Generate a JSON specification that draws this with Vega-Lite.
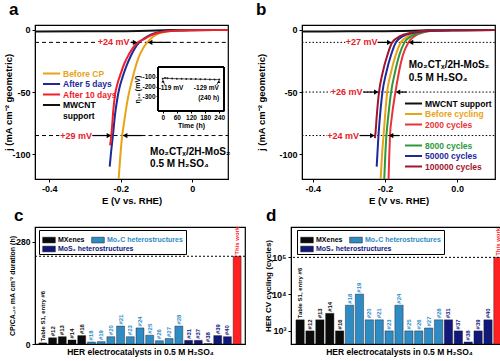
{
 "$schema": "https://vega.github.io/schema/vega-lite/v6.json",
 "background": "white",
 "padding": {"left": 2, "top": 0, "right": 0, "bottom": 0},
 "config": {
  "font": "Liberation Sans",
  "view": {"stroke": "black", "strokeWidth": 1.2},
  "axis": {"grid": false, "domainColor": "black", "tickColor": "black", "labelColor": "black", "titleColor": "black", "labelFontWeight": "bold", "titleFontWeight": "bold", "labelFontSize": 9, "titleFontSize": 9.5, "tickSize": 3, "labelPadding": 2, "titlePadding": 2, "labelFont": "Liberation Sans", "titleFont": "Liberation Sans", "labelOverlap": false},
  "legend": {"labelFont": "Liberation Sans", "labelFontWeight": "bold", "labelColor": "black"},
  "title": {"fontSize": 17, "fontWeight": "bold", "anchor": "start", "frame": "bounds", "baseline": "alphabetic", "font": "Liberation Sans", "color": "black"},
  "text": {"font": "Liberation Sans", "fontWeight": "bold"}
 },
 "datasets": {
  "a_curves": [
   {"series": "MWCNT support", "E": -0.44, "j": -1.2}, {"series": "MWCNT support", "E": -0.3, "j": -1.1}, {"series": "MWCNT support", "E": -0.2, "j": -1.0}, {"series": "MWCNT support", "E": -0.15, "j": -0.8}, {"series": "MWCNT support", "E": -0.1, "j": -0.4}, {"series": "MWCNT support", "E": -0.05, "j": -0.1}, {"series": "MWCNT support", "E": 0.0, "j": 0}, {"series": "MWCNT support", "E": 0.1, "j": 0},
   {"series": "Before CP", "E": 0.1, "j": 0}, {"series": "Before CP", "E": 0.05, "j": -0.1}, {"series": "Before CP", "E": 0.0, "j": -0.2}, {"series": "Before CP", "E": -0.04, "j": -0.5}, {"series": "Before CP", "E": -0.07, "j": -1.2}, {"series": "Before CP", "E": -0.09, "j": -2.5}, {"series": "Before CP", "E": -0.105, "j": -4.5}, {"series": "Before CP", "E": -0.116, "j": -7}, {"series": "Before CP", "E": -0.126, "j": -10}, {"series": "Before CP", "E": -0.138, "j": -15}, {"series": "Before CP", "E": -0.15, "j": -22}, {"series": "Before CP", "E": -0.16, "j": -31}, {"series": "Before CP", "E": -0.17, "j": -42}, {"series": "Before CP", "E": -0.178, "j": -52}, {"series": "Before CP", "E": -0.186, "j": -65}, {"series": "Before CP", "E": -0.191, "j": -75}, {"series": "Before CP", "E": -0.196, "j": -85}, {"series": "Before CP", "E": -0.2, "j": -97}, {"series": "Before CP", "E": -0.203, "j": -108}, {"series": "Before CP", "E": -0.206, "j": -120},
   {"series": "After 5 days", "E": 0.1, "j": 0}, {"series": "After 5 days", "E": 0.0, "j": -0.2}, {"series": "After 5 days", "E": -0.05, "j": -0.5}, {"series": "After 5 days", "E": -0.08, "j": -1.1}, {"series": "After 5 days", "E": -0.1, "j": -2.2}, {"series": "After 5 days", "E": -0.12, "j": -4.3}, {"series": "After 5 days", "E": -0.135, "j": -7}, {"series": "After 5 days", "E": -0.148, "j": -10}, {"series": "After 5 days", "E": -0.16, "j": -14.5}, {"series": "After 5 days", "E": -0.172, "j": -21}, {"series": "After 5 days", "E": -0.184, "j": -29}, {"series": "After 5 days", "E": -0.195, "j": -38}, {"series": "After 5 days", "E": -0.204, "j": -47}, {"series": "After 5 days", "E": -0.21, "j": -56}, {"series": "After 5 days", "E": -0.216, "j": -68}, {"series": "After 5 days", "E": -0.222, "j": -85}, {"series": "After 5 days", "E": -0.227, "j": -98}, {"series": "After 5 days", "E": -0.231, "j": -110},
   {"series": "After 10 days", "E": 0.1, "j": 0}, {"series": "After 10 days", "E": 0.0, "j": -0.2}, {"series": "After 10 days", "E": -0.05, "j": -0.6}, {"series": "After 10 days", "E": -0.08, "j": -1.4}, {"series": "After 10 days", "E": -0.1, "j": -2.7}, {"series": "After 10 days", "E": -0.12, "j": -5}, {"series": "After 10 days", "E": -0.138, "j": -7.8}, {"series": "After 10 days", "E": -0.152, "j": -10}, {"series": "After 10 days", "E": -0.165, "j": -14}, {"series": "After 10 days", "E": -0.178, "j": -20}, {"series": "After 10 days", "E": -0.19, "j": -27}, {"series": "After 10 days", "E": -0.2, "j": -35}, {"series": "After 10 days", "E": -0.209, "j": -43}, {"series": "After 10 days", "E": -0.216, "j": -52}, {"series": "After 10 days", "E": -0.221, "j": -65}, {"series": "After 10 days", "E": -0.225, "j": -80}, {"series": "After 10 days", "E": -0.227, "j": -86}, {"series": "After 10 days", "E": -0.23, "j": -93}
  ],
  "a_hl": [{"j": -10, "E1": -0.44, "E2": -0.268}, {"j": -10, "E1": -0.172, "E2": 0.1}, {"j": -85, "E1": -0.44, "E2": -0.372}, {"j": -85, "E1": -0.279, "E2": 0.1}],
  "a_arrows": [{"j": -10, "E1": -0.172, "E2": -0.16, "dir": "triangle-right"}, {"j": -10, "E1": -0.06, "E2": -0.118, "dir": "triangle-left"}, {"j": -85, "E1": -0.279, "E2": -0.233, "dir": "triangle-right"}, {"j": -85, "E1": -0.14, "E2": -0.188, "dir": "triangle-left"}],
  "a_notes": [{"text": "+24 mV", "E": -0.22, "j": -10}, {"text": "+29 mV", "E": -0.325, "j": -85}],
  "a_sample": [{"text": "Mo₂CTₓ/2H-MoS₂", "E": -0.118, "j": -98}, {"text": "0.5 M H₂SO₄", "E": -0.118, "j": -108}],
  "a_inset": [{"t": 0, "eta": -119}, {"t": 10, "eta": -112}, {"t": 20, "eta": -116}, {"t": 40, "eta": -118}, {"t": 60, "eta": -120}, {"t": 80, "eta": -121}, {"t": 100, "eta": -122}, {"t": 120, "eta": -123}, {"t": 140, "eta": -124}, {"t": 160, "eta": -125}, {"t": 180, "eta": -126}, {"t": 200, "eta": -127}, {"t": 220, "eta": -128}, {"t": 240, "eta": -129}],
  "a_inset_notes": [{"text": "-119 mV", "t": 35, "eta": -215}, {"text": "-129 mV", "t": 185, "eta": -215}, {"text": "(240 h)", "t": 195, "eta": -315}],
  "a_inset_arrows": [{"t1": 10, "e1": -185, "t2": 1, "e2": -145}, {"t1": 228, "e1": -185, "t2": 238, "e2": -150}],
  "b_curves": [
   {"series": "MWCNT support", "E": -0.43, "j": -1.2}, {"series": "MWCNT support", "E": -0.3, "j": -1.1}, {"series": "MWCNT support", "E": -0.2, "j": -1.0}, {"series": "MWCNT support", "E": -0.15, "j": -0.8}, {"series": "MWCNT support", "E": -0.1, "j": -0.4}, {"series": "MWCNT support", "E": -0.05, "j": -0.1}, {"series": "MWCNT support", "E": 0.0, "j": 0}, {"series": "MWCNT support", "E": 0.105, "j": 0},
   {"series": "Before cycling", "E": 0.105, "j": 0}, {"series": "Before cycling", "E": 0.0, "j": -0.2}, {"series": "Before cycling", "E": -0.05, "j": -0.4}, {"series": "Before cycling", "E": -0.09, "j": -1}, {"series": "Before cycling", "E": -0.115, "j": -2.5}, {"series": "Before cycling", "E": -0.135, "j": -5}, {"series": "Before cycling", "E": -0.156, "j": -10}, {"series": "Before cycling", "E": -0.17, "j": -20}, {"series": "Before cycling", "E": -0.184, "j": -35}, {"series": "Before cycling", "E": -0.194, "j": -50}, {"series": "Before cycling", "E": -0.2, "j": -70}, {"series": "Before cycling", "E": -0.204, "j": -85}, {"series": "Before cycling", "E": -0.208, "j": -100}, {"series": "Before cycling", "E": -0.212, "j": -120},
   {"series": "2000 cycles", "E": 0.105, "j": 0}, {"series": "2000 cycles", "E": 0.0, "j": -0.2}, {"series": "2000 cycles", "E": -0.05, "j": -0.4}, {"series": "2000 cycles", "E": -0.08, "j": -1}, {"series": "2000 cycles", "E": -0.1, "j": -2.5}, {"series": "2000 cycles", "E": -0.118, "j": -5}, {"series": "2000 cycles", "E": -0.135, "j": -10}, {"series": "2000 cycles", "E": -0.15, "j": -20}, {"series": "2000 cycles", "E": -0.162, "j": -35}, {"series": "2000 cycles", "E": -0.171, "j": -50}, {"series": "2000 cycles", "E": -0.181, "j": -70}, {"series": "2000 cycles", "E": -0.186, "j": -85}, {"series": "2000 cycles", "E": -0.188, "j": -100}, {"series": "2000 cycles", "E": -0.19, "j": -120},
   {"series": "8000 cycles", "E": 0.105, "j": 0}, {"series": "8000 cycles", "E": 0.0, "j": -0.2}, {"series": "8000 cycles", "E": -0.05, "j": -0.4}, {"series": "8000 cycles", "E": -0.085, "j": -1}, {"series": "8000 cycles", "E": -0.108, "j": -2.5}, {"series": "8000 cycles", "E": -0.127, "j": -5}, {"series": "8000 cycles", "E": -0.146, "j": -10}, {"series": "8000 cycles", "E": -0.16, "j": -20}, {"series": "8000 cycles", "E": -0.173, "j": -35}, {"series": "8000 cycles", "E": -0.183, "j": -50}, {"series": "8000 cycles", "E": -0.191, "j": -70}, {"series": "8000 cycles", "E": -0.196, "j": -85}, {"series": "8000 cycles", "E": -0.199, "j": -100}, {"series": "8000 cycles", "E": -0.202, "j": -120},
   {"series": "50000 cycles", "E": 0.105, "j": 0}, {"series": "50000 cycles", "E": 0.0, "j": -0.2}, {"series": "50000 cycles", "E": -0.05, "j": -0.4}, {"series": "50000 cycles", "E": -0.095, "j": -1}, {"series": "50000 cycles", "E": -0.125, "j": -2.5}, {"series": "50000 cycles", "E": -0.15, "j": -5}, {"series": "50000 cycles", "E": -0.17, "j": -10}, {"series": "50000 cycles", "E": -0.183, "j": -20}, {"series": "50000 cycles", "E": -0.197, "j": -35}, {"series": "50000 cycles", "E": -0.207, "j": -50}, {"series": "50000 cycles", "E": -0.214, "j": -70}, {"series": "50000 cycles", "E": -0.218, "j": -85}, {"series": "50000 cycles", "E": -0.221, "j": -100}, {"series": "50000 cycles", "E": -0.223, "j": -110},
   {"series": "100000 cycles", "E": 0.105, "j": 0}, {"series": "100000 cycles", "E": 0.0, "j": -0.2}, {"series": "100000 cycles", "E": -0.05, "j": -0.4}, {"series": "100000 cycles", "E": -0.1, "j": -1}, {"series": "100000 cycles", "E": -0.13, "j": -2.5}, {"series": "100000 cycles", "E": -0.158, "j": -5}, {"series": "100000 cycles", "E": -0.18, "j": -10}, {"series": "100000 cycles", "E": -0.193, "j": -20}, {"series": "100000 cycles", "E": -0.207, "j": -35}, {"series": "100000 cycles", "E": -0.2165, "j": -50}, {"series": "100000 cycles", "E": -0.223, "j": -70}, {"series": "100000 cycles", "E": -0.226, "j": -82}, {"series": "100000 cycles", "E": -0.228, "j": -87}
  ],
  "b_hl": [{"j": -10, "E1": -0.43, "E2": -0.31}, {"j": -10, "E1": -0.22, "E2": 0.105}, {"j": -50, "E1": -0.43, "E2": -0.351}, {"j": -50, "E1": -0.26, "E2": 0.105}, {"j": -85, "E1": -0.43, "E2": -0.361}, {"j": -85, "E1": -0.27, "E2": 0.105}],
  "b_arrows": [{"j": -10, "E1": -0.22, "E2": -0.188, "dir": "triangle-right"}, {"j": -10, "E1": -0.098, "E2": -0.128, "dir": "triangle-left"}, {"j": -50, "E1": -0.26, "E2": -0.224, "dir": "triangle-right"}, {"j": -50, "E1": -0.14, "E2": -0.164, "dir": "triangle-left"}, {"j": -85, "E1": -0.27, "E2": -0.235, "dir": "triangle-right"}, {"j": -85, "E1": -0.16, "E2": -0.183, "dir": "triangle-left"}],
  "b_notes": [{"text": "+27 mV", "E": -0.265, "j": -10}, {"text": "+26 mV", "E": -0.306, "j": -50}, {"text": "+24 mV", "E": -0.316, "j": -85}],
  "b_sample": [{"text": "Mo₂CTₓ/2H-MoS₂", "E": -0.134, "j": -28}, {"text": "0.5 M H₂SO₄", "E": -0.134, "j": -39}],
  "cd": [
   {"cat": "Table S1, entry #6", "group": "MXenes", "dur": 3, "cyc": 2000},
   {"cat": "#12", "group": "MXenes", "dur": 17, "cyc": 1000},
   {"cat": "#13", "group": "MXenes", "dur": 20, "cyc": 2000},
   {"cat": "#14", "group": "MXenes", "dur": 11, "cyc": 3000},
   {"cat": "#16", "group": "MXenes", "dur": 23, "cyc": 1000},
   {"cat": "#18", "group": "Mo₂C heterostructures", "dur": 5.5, "cyc": 5000},
   {"cat": "#19", "group": "Mo₂C heterostructures", "dur": 6.5, "cyc": 10000},
   {"cat": "#20", "group": "Mo₂C heterostructures", "dur": 20, "cyc": 2000},
   {"cat": "#21", "group": "Mo₂C heterostructures", "dur": 49, "cyc": 2000},
   {"cat": "#23", "group": "Mo₂C heterostructures", "dur": 20, "cyc": 1000},
   {"cat": "#24", "group": "Mo₂C heterostructures", "dur": 44, "cyc": 5000},
   {"cat": "#25", "group": "Mo₂C heterostructures", "dur": 24, "cyc": 1000},
   {"cat": "#26", "group": "Mo₂C heterostructures", "dur": 9, "cyc": 1000},
   {"cat": "#27", "group": "Mo₂C heterostructures", "dur": 15, "cyc": 1200},
   {"cat": "#28", "group": "Mo₂C heterostructures", "dur": 49, "cyc": 2000},
   {"cat": "#31", "group": "MoS₂ heterostructures", "dur": 10, "cyc": 2000},
   {"cat": "#37", "group": "MoS₂ heterostructures", "dur": 10, "cyc": 1000},
   {"cat": "#38", "group": "MoS₂ heterostructures", "dur": 1, "cyc": 500},
   {"cat": "#39", "group": "MoS₂ heterostructures", "dur": 23, "cyc": 1000},
   {"cat": "#40", "group": "MoS₂ heterostructures", "dur": 20, "cyc": 2000},
   {"cat": "This work", "group": "This work", "dur": 240, "cyc": 100000}
  ],
  "legend_mos2": [{"g": "MoS₂ heterostructures"}],
  "c_ref": [{"ref": 240}],
  "d_ref": [{"ref": 100000}]
 },
 "spacing": 0,
 "resolve": {"scale": {"color": "independent", "fill": "independent"}, "legend": {"color": "independent", "fill": "independent"}},
 "vconcat": [
  {
   "spacing": 23,
   "resolve": {"scale": {"color": "independent"}, "legend": {"color": "independent"}},
   "hconcat": [
    {
     "width": 193, "height": 154,
     "title": {"text": "a", "dx": 6, "offset": 6},
     "resolve": {"scale": {"x": "independent", "y": "independent"}},
     "layer": [
      {
       "layer": [
        {"data": {"name": "a_hl"}, "mark": {"type": "rule", "color": "black", "strokeWidth": 1, "strokeDash": [4, 3]},
         "encoding": {
          "x": {"field": "E1", "type": "quantitative", "scale": {"domain": [-0.44, 0.1], "nice": false, "zero": false}, "axis": {"title": "E (V vs. RHE)", "values": [-0.4, -0.3, -0.2, -0.1, 0, 0.1], "labelExpr": "datum.value == 0 ? '0' : (datum.value < 0 ? '-' : '') + format(abs(datum.value), '.1f')"}},
          "x2": {"field": "E2"},
          "y": {"field": "j", "type": "quantitative", "scale": {"domain": [-120, 4], "nice": false, "zero": false}, "axis": {"title": "j (mA cm⁻² geometric)", "values": [0, -10, -50, -85, -100], "labelExpr": "(datum.value < 0 ? '-' : '') + abs(datum.value)", "minExtent": 22, "maxExtent": 22, "titlePadding": 0}}
         }},
        {"data": {"name": "a_curves"}, "mark": {"type": "line", "strokeWidth": 2, "clip": true, "interpolate": "monotone"},
         "encoding": {
          "x": {"field": "E", "type": "quantitative"},
          "y": {"field": "j", "type": "quantitative"},
          "color": {"field": "series", "type": "nominal", "scale": {"domain": ["Before CP", "After 5 days", "After 10 days", "MWCNT support"], "range": ["#e8a317", "#1c2a9a", "#ee2128", "#111111"]},
           "legend": {"title": null, "orient": "none", "legendX": 11, "legendY": 43, "symbolType": "M-1.9,0H1.9", "symbolStrokeWidth": 2, "symbolSize": 81, "labelFontSize": 8.5, "labelOffset": 6, "rowPadding": 0.5, "padding": 0,
            "labelExpr": "datum.label == 'MWCNT support' ? ['MWCNT', 'support'] : datum.label",
            "encode": {"labels": {"update": {"fill": {"signal": "datum.value == 'Before CP' ? '#e8a317' : datum.value == 'After 5 days' ? '#1c2a9a' : datum.value == 'After 10 days' ? '#ee2128' : '#000000'"}}}}}}
         }},
        {"data": {"name": "a_arrows"}, "mark": {"type": "rule", "color": "black", "strokeWidth": 1.2},
         "encoding": {"x": {"field": "E1", "type": "quantitative"}, "x2": {"field": "E2"}, "y": {"field": "j", "type": "quantitative"}}},
        {"data": {"name": "a_arrows"}, "mark": {"type": "point", "filled": true, "color": "black", "size": 28, "opacity": 1},
         "encoding": {"x": {"field": "E2", "type": "quantitative"}, "y": {"field": "j", "type": "quantitative"}, "shape": {"field": "dir", "type": "nominal", "scale": null, "legend": null}}},
        {"data": {"name": "a_notes"}, "mark": {"type": "text", "color": "#e8202a", "fontSize": 9, "fontWeight": "bold"},
         "encoding": {"x": {"field": "E", "type": "quantitative"}, "y": {"field": "j", "type": "quantitative"}, "text": {"field": "text"}}},
        {"data": {"name": "a_sample"}, "mark": {"type": "text", "align": "left", "fontSize": 10, "fontWeight": "bold", "color": "black"},
         "encoding": {"x": {"field": "E", "type": "quantitative"}, "y": {"field": "j", "type": "quantitative"}, "text": {"field": "text"}}}
       ]
      },
      {
       "layer": [
        {"data": {"name": "a_inset"}, "mark": {"type": "line", "color": "#222222", "strokeWidth": 0.8, "point": {"size": 4, "color": "#222222", "filled": true}},
         "encoding": {
          "x": {"field": "t", "type": "quantitative", "scale": {"domain": [-20, 260], "range": [123, 189], "nice": false, "zero": false}, "axis": {"orient": "bottom", "offset": -68, "values": [0, 60, 120, 180, 240], "title": "Time (h)", "labelFontSize": 6.5, "titleFontSize": 7, "tickSize": 2, "labelPadding": 1, "titlePadding": 1}},
          "y": {"field": "eta", "type": "quantitative", "scale": {"domain": [-450, 0], "range": [86, 42], "nice": false, "zero": false}, "axis": {"orient": "left", "offset": -123, "values": [-100, -200, -300], "labelExpr": "'-' + abs(datum.value)", "title": "η₁₀ (mV)", "labelFontSize": 6.5, "titleFontSize": 7, "tickSize": 2, "labelPadding": 1, "titlePadding": 1}}
         }},
        {"data": {"name": "a_inset"}, "mark": {"type": "rect", "filled": false, "stroke": "black", "strokeWidth": 0.8},
         "encoding": {"x": {"datum": -20, "type": "quantitative"}, "x2": {"datum": 260}, "y": {"datum": -450, "type": "quantitative"}, "y2": {"datum": 0}}},
        {"data": {"name": "a_inset_notes"}, "mark": {"type": "text", "fontSize": 6.5, "fontWeight": "bold", "color": "black"},
         "encoding": {"x": {"field": "t", "type": "quantitative"}, "y": {"field": "eta", "type": "quantitative"}, "text": {"field": "text"}}},
        {"data": {"name": "a_inset_arrows"}, "mark": {"type": "rule", "color": "black", "strokeWidth": 0.7},
         "encoding": {"x": {"field": "t1", "type": "quantitative"}, "x2": {"field": "t2"}, "y": {"field": "e1", "type": "quantitative"}, "y2": {"field": "e2"}}},
        {"data": {"name": "a_inset_arrows"}, "mark": {"type": "point", "shape": "triangle-up", "filled": true, "color": "black", "size": 10, "opacity": 1},
         "encoding": {"x": {"field": "t2", "type": "quantitative"}, "y": {"field": "e2", "type": "quantitative"}}}
       ]
      }
     ]
    },
    {
     "width": 193, "height": 154,
     "title": {"text": "b", "dx": 0, "offset": 6},
     "layer": [
      {"data": {"name": "b_hl"}, "mark": {"type": "rule", "color": "black", "strokeWidth": 1, "strokeDash": [1.5, 2]},
       "encoding": {
        "x": {"field": "E1", "type": "quantitative", "scale": {"domain": [-0.43, 0.105], "nice": false, "zero": false}, "axis": {"title": "E (V vs. RHE)", "values": [-0.4, -0.3, -0.2, -0.1, 0, 0.1], "labelExpr": "(datum.value < -0.001 ? '-' : '') + format(abs(datum.value), '.1f')"}},
        "x2": {"field": "E2"},
        "y": {"field": "j", "type": "quantitative", "scale": {"domain": [-120, 4], "nice": false, "zero": false}, "axis": {"title": "j (mA cm⁻² geometric)", "values": [0, -10, -50, -85, -100], "labelExpr": "(datum.value < 0 ? '-' : '') + abs(datum.value)", "minExtent": 23, "maxExtent": 23, "titlePadding": 13}}
       }},
      {"data": {"name": "b_curves"}, "mark": {"type": "line", "strokeWidth": 2, "clip": true, "interpolate": "monotone"},
       "encoding": {
        "x": {"field": "E", "type": "quantitative"},
        "y": {"field": "j", "type": "quantitative"},
        "color": {"field": "series", "type": "nominal", "scale": {"domain": ["MWCNT support", "Before cycling", "2000 cycles", " ", "8000 cycles", "50000 cycles", "100000 cycles"], "range": ["#111111", "#e8a317", "#e8333a", "rgba(0,0,0,0)", "#2a9a3a", "#1c2a9a", "#a01530"]},
         "legend": {"title": null, "orient": "none", "legendX": 106, "legendY": 73, "values": ["MWCNT support", "Before cycling", "2000 cycles", " ", "8000 cycles", "50000 cycles", "100000 cycles"], "symbolType": "M-1.9,0H1.9", "symbolStrokeWidth": 2, "symbolSize": 81, "labelFontSize": 8.5, "labelOffset": 6, "rowPadding": 0.5, "padding": 0,
          "encode": {"labels": {"update": {"fill": {"signal": "datum.value == 'Before cycling' ? '#e8a317' : datum.value == '2000 cycles' ? '#e8333a' : datum.value == '8000 cycles' ? '#2a9a3a' : datum.value == '50000 cycles' ? '#1c2a9a' : datum.value == '100000 cycles' ? '#a01530' : '#000000'"}}}}}}
       }},
      {"data": {"name": "b_arrows"}, "mark": {"type": "rule", "color": "black", "strokeWidth": 1.2},
       "encoding": {"x": {"field": "E1", "type": "quantitative"}, "x2": {"field": "E2"}, "y": {"field": "j", "type": "quantitative"}}},
      {"data": {"name": "b_arrows"}, "mark": {"type": "point", "filled": true, "color": "black", "size": 28, "opacity": 1},
       "encoding": {"x": {"field": "E2", "type": "quantitative"}, "y": {"field": "j", "type": "quantitative"}, "shape": {"field": "dir", "type": "nominal", "scale": null, "legend": null}}},
      {"data": {"name": "b_notes"}, "mark": {"type": "text", "color": "#e8202a", "fontSize": 9, "fontWeight": "bold"},
       "encoding": {"x": {"field": "E", "type": "quantitative"}, "y": {"field": "j", "type": "quantitative"}, "text": {"field": "text"}}},
      {"data": {"name": "b_sample"}, "mark": {"type": "text", "align": "left", "fontSize": 10, "fontWeight": "bold", "color": "black"},
       "encoding": {"x": {"field": "E", "type": "quantitative"}, "y": {"field": "j", "type": "quantitative"}, "text": {"field": "text"}}}
     ]
    }
   ]
  },
  {
   "spacing": 16,
   "resolve": {"scale": {"color": "independent", "fill": "independent"}, "legend": {"color": "independent", "fill": "independent"}},
   "hconcat": [
    {
     "width": 210, "height": 117,
     "title": {"text": "c", "dx": 6, "offset": 2},
     "resolve": {"scale": {"fill": "independent"}, "legend": {"fill": "independent"}},
     "layer": [
      {"data": {"name": "cd"}, "mark": {"type": "bar", "stroke": "#111111", "strokeWidth": 0.4},
       "encoding": {
        "x": {"field": "cat", "type": "nominal", "sort": null, "scale": {"paddingInner": 0.18, "paddingOuter": 0.4}, "axis": {"title": "HER electrocatalysts in 0.5 M H₂SO₄", "labels": false, "ticks": false, "domain": false, "titlePadding": 3, "titleFontSize": 8.5}},
        "y": {"field": "dur", "type": "quantitative", "scale": {"domain": [0, 320], "nice": false}, "axis": {"title": "CP/CA₋₁₀ mA cm⁻² duration (h)", "values": [0, 40, 80, 120, 160, 200, 240, 280], "labelFontSize": 8.5, "titleFontSize": 7, "titlePadding": 1, "minExtent": 19, "maxExtent": 19}},
        "fill": {"field": "group", "type": "nominal", "scale": {"domain": ["MXenes", "Mo₂C heterostructures", "MoS₂ heterostructures", "This work"], "range": ["#0b0b0b", "#2e8bc4", "#10187a", "#ff2121"]},
         "legend": {"title": "\u00a0", "titleOrient": "bottom", "titleFontSize": 7, "titlePadding": 0, "orient": "none", "direction": "horizontal", "legendX": 4, "legendY": 3, "zindex": 1, "values": ["MXenes", "Mo₂C heterostructures"], "symbolType": "M-1,-0.45H1V0.45H-1Z", "symbolSize": 160, "symbolStrokeColor": "#111111", "symbolStrokeWidth": 0.5, "labelFontSize": 7, "labelOffset": 2, "columnPadding": 5, "padding": 3, "strokeColor": "black", "fillColor": "white",
          "encode": {"labels": {"update": {"fill": {"signal": "datum.value == 'Mo₂C heterostructures' ? '#2e8bc4' : '#000000'"}}}}}}
       }},
      {"data": {"name": "cd"}, "mark": {"type": "text", "angle": 270, "align": "left", "baseline": "middle", "dx": 1.5, "fontSize": 6, "fontWeight": "bold", "clip": true},
       "encoding": {"x": {"field": "cat", "type": "nominal", "sort": null}, "y": {"field": "dur", "type": "quantitative"}, "text": {"field": "cat"},
        "color": {"field": "group", "type": "nominal", "scale": {"domain": ["MXenes", "Mo₂C heterostructures", "MoS₂ heterostructures", "This work"], "range": ["#0b0b0b", "#2e8bc4", "#10187a", "#ff2121"]}, "legend": null}}},
      {"data": {"name": "c_ref"}, "mark": {"type": "rule", "strokeDash": [2, 2], "color": "black", "strokeWidth": 1},
       "encoding": {"y": {"field": "ref", "type": "quantitative"}}},
      {"data": {"name": "legend_mos2"}, "mark": {"type": "point", "filled": true, "opacity": 0},
       "encoding": {"fill": {"field": "g", "type": "nominal", "scale": {"domain": ["MoS₂ heterostructures"], "range": ["#10187a"]},
        "legend": {"title": null, "orient": "none", "legendX": 7, "legendY": 15, "zindex": 2, "symbolType": "M-1,-0.45H1V0.45H-1Z", "symbolSize": 160, "symbolOpacity": 1, "symbolStrokeColor": "#111111", "symbolStrokeWidth": 0.5, "labelFontSize": 7, "labelOffset": 2, "padding": 0,
         "encode": {"labels": {"update": {"fill": {"value": "#10187a"}}}}}}}}
     ]
    },
    {
     "width": 216, "height": 117,
     "title": {"text": "d", "dx": 2, "offset": 2},
     "resolve": {"scale": {"fill": "independent"}, "legend": {"fill": "independent"}},
     "layer": [
      {"data": {"name": "cd"}, "mark": {"type": "bar", "stroke": "#111111", "strokeWidth": 0.4},
       "encoding": {
        "x": {"field": "cat", "type": "nominal", "sort": null, "scale": {"paddingInner": 0.16, "paddingOuter": 0.5}, "axis": {"title": "HER electrocatalysts in 0.5 M H₂SO₄", "labels": false, "ticks": false, "domain": false, "titlePadding": 3, "titleFontSize": 8.5}},
        "y": {"field": "cyc", "type": "quantitative", "scale": {"type": "log", "domain": [440, 670000], "nice": false}, "axis": {"title": "HER CV cycling (cycles)", "values": [1000, 10000, 100000], "labelExpr": "datum.value == 1000 ? '10³' : datum.value == 10000 ? '10⁴' : '10⁵'", "labelFontSize": 9, "titleFontSize": 8, "titlePadding": 1, "minExtent": 18, "maxExtent": 18}},
        "y2": {"datum": 440},
        "fill": {"field": "group", "type": "nominal", "scale": {"domain": ["MXenes", "Mo₂C heterostructures", "MoS₂ heterostructures", "This work"], "range": ["#0b0b0b", "#2e8bc4", "#10187a", "#ff2121"]},
         "legend": {"title": "\u00a0", "titleOrient": "bottom", "titleFontSize": 7, "titlePadding": 0, "orient": "none", "direction": "horizontal", "legendX": 6, "legendY": 3, "zindex": 1, "values": ["MXenes", "Mo₂C heterostructures"], "symbolType": "M-1,-0.45H1V0.45H-1Z", "symbolSize": 160, "symbolStrokeColor": "#111111", "symbolStrokeWidth": 0.5, "labelFontSize": 7, "labelOffset": 2, "columnPadding": 5, "padding": 3, "strokeColor": "black", "fillColor": "white",
          "encode": {"labels": {"update": {"fill": {"signal": "datum.value == 'Mo₂C heterostructures' ? '#2e8bc4' : '#000000'"}}}}}}
       }},
      {"data": {"name": "cd"}, "mark": {"type": "text", "angle": 270, "align": "left", "baseline": "middle", "dx": 1.5, "fontSize": 6, "fontWeight": "bold", "clip": true},
       "encoding": {"x": {"field": "cat", "type": "nominal", "sort": null}, "y": {"field": "cyc", "type": "quantitative"}, "text": {"field": "cat"},
        "color": {"field": "group", "type": "nominal", "scale": {"domain": ["MXenes", "Mo₂C heterostructures", "MoS₂ heterostructures", "This work"], "range": ["#0b0b0b", "#2e8bc4", "#10187a", "#ff2121"]}, "legend": null}}},
      {"data": {"name": "d_ref"}, "mark": {"type": "rule", "strokeDash": [2, 2], "color": "black", "strokeWidth": 1},
       "encoding": {"y": {"field": "ref", "type": "quantitative"}}},
      {"data": {"name": "legend_mos2"}, "mark": {"type": "point", "filled": true, "opacity": 0},
       "encoding": {"fill": {"field": "g", "type": "nominal", "scale": {"domain": ["MoS₂ heterostructures"], "range": ["#10187a"]},
        "legend": {"title": null, "orient": "none", "legendX": 9, "legendY": 15, "zindex": 2, "symbolType": "M-1,-0.45H1V0.45H-1Z", "symbolSize": 160, "symbolOpacity": 1, "symbolStrokeColor": "#111111", "symbolStrokeWidth": 0.5, "labelFontSize": 7, "labelOffset": 2, "padding": 0,
         "encode": {"labels": {"update": {"fill": {"value": "#10187a"}}}}}}}}
     ]
    }
   ]
  }
 ]
}
